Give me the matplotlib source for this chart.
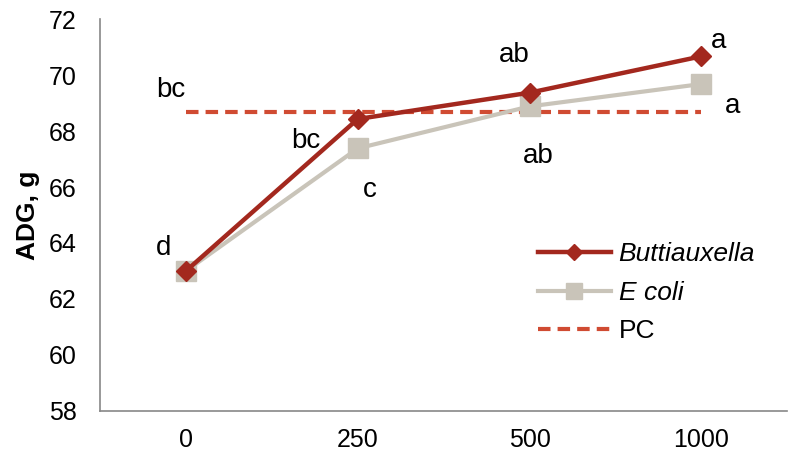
import matplotlib.pyplot as plt
import numpy as np

plt.rcParams['font.family'] = ['Liberation Sans', 'DejaVu Sans']

doses = ['0', '250', '500', '1000']
buttiauxella = [63.0, 68.43, 69.37, 70.67]
ecoli = [63.0, 67.38, 68.88, 69.68]
pc = [68.68, 68.68, 68.68, 68.68]

butt_letters = ['d', 'bc', 'ab', 'a']
ecoli_letters = ['', 'c', 'ab', 'a']
pc_letter = 'bc'

x = np.arange(len(doses))

fig = plt.figure(figsize=(7.88, 4.55), dpi=100)
ax = fig.add_axes([0.127, 0.097, 0.872, 0.861])

c_butt = '#A3281E'
c_ecoli = '#C9C4B9'
c_pc = '#D04B32'

ax.plot(x, pc, color=c_pc, lw=3, ls=(0, (3, 1.7)), label='PC', zorder=2)
ax.plot(x, ecoli, color=c_ecoli, lw=3, marker='s', ms=14, label='E coli', zorder=3)
ax.plot(x, buttiauxella, color=c_butt, lw=3.2, marker='D', ms=10, label='Buttiauxella', zorder=4)

# significance letters (baseline anchored)
fs = 20
kw = dict(fontsize=fs, ha='center', va='baseline')
ax.text(x[0] - 0.13, buttiauxella[0] + 0.57, butt_letters[0], **kw)
ax.text(x[1] - 0.30, buttiauxella[1] - 1.02, butt_letters[1], **kw)
ax.text(x[2] - 0.09, buttiauxella[2] + 1.08, butt_letters[2], **kw)
ax.text(x[3] + 0.10, buttiauxella[3] + 0.29, butt_letters[3], **kw)
ax.text(x[1] + 0.07, ecoli[1] - 1.73, ecoli_letters[1], **kw)
ax.text(x[2] + 0.05, ecoli[2] - 2.02, ecoli_letters[2], **kw)
ax.text(x[3] + 0.18, ecoli[3] - 1.02, ecoli_letters[3], **kw)
ax.text(x[0] - 0.09, pc[0] + 0.53, pc_letter, **kw)

ax.set_xlim(-0.5, 3.5)
ax.set_ylim(58, 72)
ax.set_xticks(x)
ax.set_xticklabels(doses)
ax.set_yticks(np.arange(58, 73, 2))
ax.tick_params(length=0, labelsize=18)
ax.tick_params(axis='x', pad=12)
ax.tick_params(axis='y', pad=17)
ax.set_ylabel('ADG, g', fontsize=19, fontweight='bold')
ax.yaxis.set_label_coords(-0.088, 0.5)

for s in ['top', 'right']:
    ax.spines[s].set_visible(False)
for s in ['left', 'bottom']:
    ax.spines[s].set_color('#878787')
    ax.spines[s].set_linewidth(1.2)

handles, labels = ax.get_legend_handles_labels()
order = [2, 1, 0]
leg = ax.legend([handles[i] for i in order], [labels[i] for i in order],
                loc='upper left', bbox_to_anchor=(0.6376, 0.43), frameon=False,
                borderpad=0, borderaxespad=0, markerscale=0.8,
                fontsize=19, handlelength=2.75, labelspacing=0.55, handletextpad=0.3)
for t in leg.get_texts():
    if t.get_text() != 'PC':
        t.set_fontstyle('italic')

fig.savefig('out.png', dpi=100)
